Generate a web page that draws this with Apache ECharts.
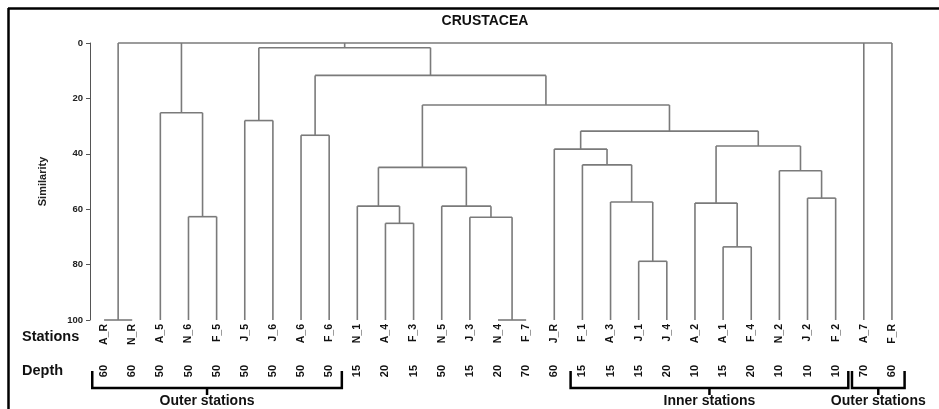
<!DOCTYPE html>
<html>
<head>
<meta charset="utf-8">
<script src="https://cdn.jsdelivr.net/npm/echarts@6/dist/echarts.min.js"></script>
<style>html,body{margin:0;padding:0;background:#fff}#c{width:939px;height:409px}</style>
</head>
<body>
<div id="c"></div>
<script>
// ---------- DATA ----------
const leaves = ['A_R','N_R','A_5','N_6','F_5','J_5','J_6','A_6','F_6','N_1','A_4','F_3','N_5','J_3','N_4','F_7','J_R','F_1','A_3','J_1','J_4','A_2','A_1','F_4','N_2','J_2','F_2','A_7','F_R'];
const depths = [60,60,50,50,50,50,50,50,50,15,20,15,50,15,20,70,60,15,15,15,20,10,15,20,10,10,10,70,60];
// merges: [child A, child B, similarity]; ids 0..28 = leaves, 29.. = merges in order
const merges = [
  [0,1,100],    // 29 A_R+N_R
  [14,15,100],  // 30 N_4+F_7
  [19,20,78.8], // 31 J_1+J_4
  [22,23,73.6], // 32 A_1+F_4
  [10,11,65.1], // 33 A_4+F_3
  [13,30,62.9], // 34
  [3,4,62.7],   // 35 N_6+F_5
  [9,33,58.9],  // 36
  [12,34,58.9], // 37
  [21,32,57.8], // 38
  [18,31,57.4], // 39
  [25,26,56.0], // 40 J_2+F_2
  [17,39,44.0], // 41
  [24,40,46.1], // 42
  [36,37,44.9], // 43
  [16,41,38.3], // 44
  [38,42,37.2], // 45
  [7,8,33.3],   // 46 A_6+F_6
  [44,45,31.8], // 47
  [5,6,28.0],   // 48 J_5+J_6
  [2,35,25.2],  // 49
  [43,47,22.4], // 50
  [46,50,11.7], // 51
  [48,51,1.7]   // 52
];
const rootChildren = [29,49,52,27,28];
const rootSimilarity = 0;
const yTicks = [0,20,40,60,80,100];
const groupNames = ['Outer stations','Inner stations','Outer stations'];
const groupFirst = [0,17,27];
const groupLast = [8,26,28];
const title = 'CRUSTACEA';

// ---------- TREE LAYOUT (from data) ----------
const nodes = merges.map(m => ({children:[m[0],m[1]], h:m[2]}));
nodes.push({children: rootChildren, h: rootSimilarity});
const posX = [], posH = [];
leaves.forEach((l,i)=>{posX[i]=i; posH[i]=100;});
nodes.forEach((n,k)=>{
  const id = leaves.length + k;
  const xs = n.children.map(c=>posX[c]);
  posX[id] = (Math.min(...xs)+Math.max(...xs))/2;
  posH[id] = n.h;
});

const FONT = '"Liberation Sans", Arial, sans-serif';
const LINE = '#7a7a7a';
const chart = echarts.init(document.getElementById('c'), null, {renderer:'canvas'});

chart.setOption({
  animation:false,
  backgroundColor:'#fff',
  grid:{left:90, top:43, width:816, height:277},
  xAxis:[
    {type:'value', min:-0.5, max:leaves.length-0.5, show:false},
    {type:'category', data:leaves, position:'bottom', boundaryGap:true,
     axisLine:{show:false}, axisTick:{show:false},
     axisLabel:{rotate:90, margin:4, fontFamily:FONT, fontWeight:'bold', fontSize:10.5, color:'#111', interval:0}},
    {type:'category', data:depths.map(String), position:'bottom', offset:41, boundaryGap:true,
     axisLine:{show:false}, axisTick:{show:false},
     axisLabel:{rotate:90, margin:4, fontFamily:FONT, fontWeight:'bold', fontSize:11, color:'#111', interval:0}}
  ],
  yAxis:{type:'value', inverse:true, min:yTicks[0], max:yTicks[yTicks.length-1], interval:20, position:'left',
    axisLine:{show:true, onZero:false, lineStyle:{color:'#555', width:1}},
    axisTick:{show:true, length:4, lineStyle:{color:'#555'}},
    axisLabel:{margin:7, fontFamily:FONT, fontWeight:'bold', fontSize:9.5, color:'#222'},
    splitLine:{show:false},
    name:'Similarity', nameLocation:'middle', nameGap:42, nameRotate:90,
    nameTextStyle:{fontFamily:FONT, fontWeight:'bold', fontSize:11, color:'#222'}
  },
  series:[{
    type:'custom', xAxisIndex:0, yAxisIndex:0, clip:false,
    data: nodes.map((n,k)=>[k]),
    encode:{x:0, y:0},
    renderItem:function(params, api){
      const k = api.value(0);
      const n = nodes[k];
      const kids = [];
      const xs = n.children.map(c=>posX[c]);
      const a = api.coord([Math.min(...xs), n.h]);
      const b = api.coord([Math.max(...xs), n.h]);
      kids.push({type:'line', shape:{x1:a[0],y1:a[1],x2:b[0],y2:b[1]}, style:{stroke:LINE, lineWidth:1.6}});
      n.children.forEach(c=>{
        const p1 = api.coord([posX[c], posH[c]]);
        const p2 = api.coord([posX[c], n.h]);
        kids.push({type:'line', shape:{x1:p1[0],y1:p1[1],x2:p2[0],y2:p2[1]}, style:{stroke:LINE, lineWidth:1.6}});
      });
      return {type:'group', children:kids};
    }
  }]
});

// ---------- ANNOTATIONS ----------
const g = [];
g.push({type:'line', shape:{x1:8,y1:8.5,x2:939,y2:8.5}, style:{stroke:'#000', lineWidth:2.5}, silent:true});
g.push({type:'line', shape:{x1:8.5,y1:8,x2:8.5,y2:409}, style:{stroke:'#000', lineWidth:2.5}, silent:true});
g.push({type:'text', x:485, y:21, style:{text:title, font:'bold 14px '+FONT, fill:'#111', align:'center', verticalAlign:'middle'}});
g.push({type:'text', x:22, y:337, style:{text:'Stations', font:'bold 14.5px '+FONT, fill:'#111', align:'left', verticalAlign:'middle'}});
g.push({type:'text', x:22, y:371, style:{text:'Depth', font:'bold 14.5px '+FONT, fill:'#111', align:'left', verticalAlign:'middle'}});
const tickShift = [-10, 0, 0];
groupNames.forEach((name,i)=>{
  const l = chart.convertToPixel({xAxisIndex:0}, groupFirst[i]-0.42);
  const r = chart.convertToPixel({xAxisIndex:0}, groupLast[i]+0.45);
  const yTop = 371, yB = 388;
  const cx = (l+r)/2 + tickShift[i];
  g.push({type:'polyline', shape:{points:[[l,yTop],[l,yB],[r,yB],[r,yTop]]}, style:{stroke:'#000', lineWidth:2.5, fill:null}});
  g.push({type:'line', shape:{x1:cx,y1:yB,x2:cx,y2:395}, style:{stroke:'#000', lineWidth:2.5}});
  g.push({type:'text', x:cx, y:401, style:{text:name, font:'bold 14px '+FONT, fill:'#111', align:'center', verticalAlign:'middle'}});
});
chart.setOption({graphic:g});
</script>
</body>
</html>
